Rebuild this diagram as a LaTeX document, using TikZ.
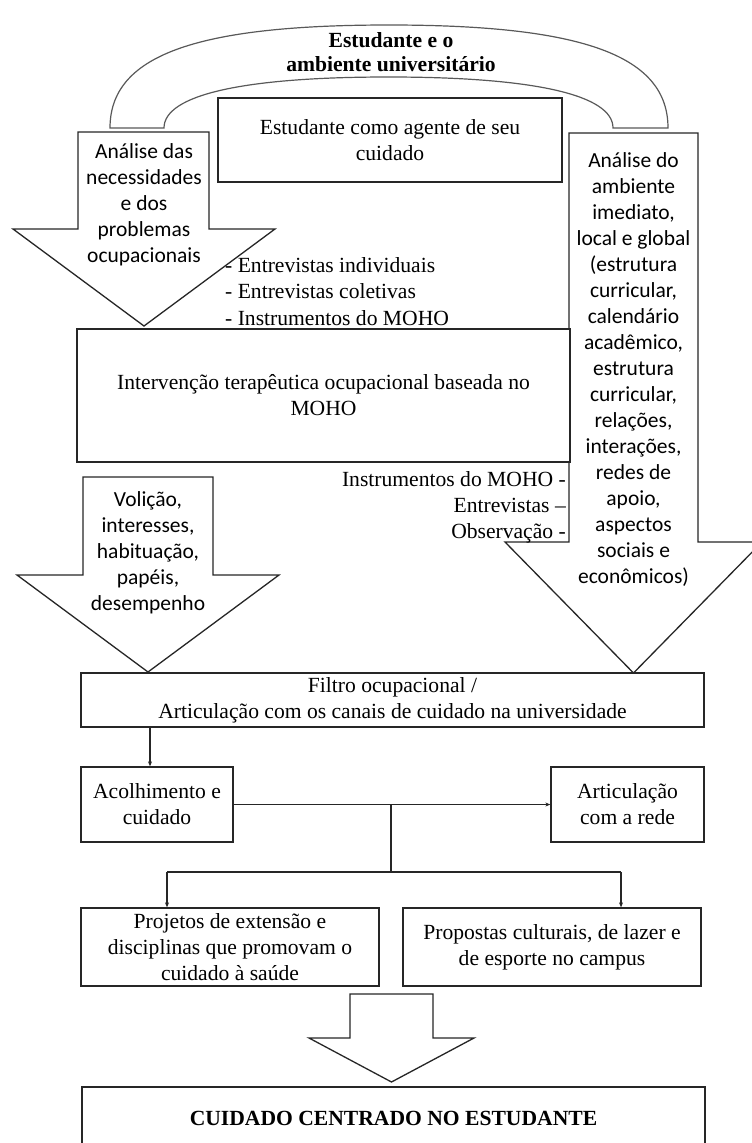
\documentclass[tikz,border=0pt]{standalone}
\usepackage{fontspec}
\setmainfont{Liberation Serif}
\newfontfamily\carlito{Carlito}
\usetikzlibrary{arrows.meta}
\newcommand\txtserif{\fontsize{21.6}{26}\selectfont}
\newcommand\txtsans{\carlito\fontsize{21.5}{26}\selectfont}
\newcommand\txttitle{\bfseries\fontsize{21.6}{24}\selectfont}
\begin{document}
\begin{tikzpicture}[x=1pt,y=-1pt,
  outline/.style={draw=black!85, line width=1.3pt},
  box/.style={outline, fill=white, align=center, inner sep=0pt, font=\txtserif},
  blockarrow/.style={outline, fill=white, line join=miter},
  sanstext/.style={align=center, inner sep=0pt, font=\txtsans},
  conn/.style={draw=black!85, line width=1.1pt, -{Stealth[length=5pt,width=4pt]}},
  link/.style={draw=black!85, line width=1.1pt}]
\useasboundingbox (0,0) rectangle (752,1143);
\clip (0,0) rectangle (752,1143);

% band arching over the top
\draw[draw=black!65, line width=1.2pt, fill=white]
  (110,128) .. controls (110,56) and (194,25) .. (389,25)
  .. controls (584,25) and (668,56) .. (668,128)
  -- (613,128) .. controls (613,95) and (534.5,77) .. (388.5,77)
  .. controls (242.5,77) and (164,95) .. (164,128) -- cycle;
\node[align=center, inner sep=0pt, font=\txttitle] (title) at (391,52)
  {Estudante e o\\ambiente universitário};

% large block arrows
\draw[blockarrow] (569,133) -- (698,133) -- (698,542) -- (762,542)
  -- (633.5,673) -- (505,542) -- (569,542) -- cycle;
\draw[blockarrow] (78,132) -- (209,132) -- (209,229) -- (275,229)
  -- (144,326) -- (13,229) -- (78,229) -- cycle;
\draw[blockarrow] (83,477) -- (213,477) -- (213,575) -- (279,575)
  -- (148,672) -- (17,575) -- (83,575) -- cycle;
\draw[blockarrow] (350,994) -- (433,994) -- (433,1038) -- (474,1038)
  -- (391.5,1082) -- (309,1038) -- (350,1038) -- cycle;

% texts carried by the block arrows
\node[sanstext] (needs) at (144,205)
  {Análise das\\necessidades\\e dos\\problemas\\ocupacionais};
\node[sanstext] (env) at (633.5,370)
  {Análise do\\ambiente\\imediato,\\local e global\\(estrutura\\curricular,\\calendário\\acadêmico,\\estrutura\\curricular,\\relações,\\interações,\\redes de\\apoio,\\aspectos\\sociais e\\econômicos)};
\node[sanstext] (volition) at (148,552.5)
  {Volição,\\interesses,\\habituação,\\papéis,\\desempenho};

% boxes
\node[box, minimum width=344, minimum height=84] (agent) at (390,140)
  {Estudante como agente de seu\\cuidado};
\node[box, minimum width=493, minimum height=133] (interv) at (323.5,395.5)
  {Intervenção terapêutica ocupacional baseada no\\MOHO};
\node[box, minimum width=623, minimum height=54] (filtro) at (392.5,700)
  {Filtro ocupacional /\\Articulação com os canais de cuidado na universidade};
\node[box, minimum width=152, minimum height=75] (acolh) at (157,804.5)
  {Acolhimento e\\cuidado};
\node[box, minimum width=153, minimum height=75] (artic) at (627.5,804.5)
  {Articulação\\com a rede};
\node[box, minimum width=298, minimum height=78] (proj) at (230,947)
  {Projetos de extensão e\\disciplinas que promovam o\\cuidado à saúde};
\node[box, minimum width=298, minimum height=78] (prop) at (552,947)
  {Propostas culturais, de lazer e\\de esporte no campus};
\node[box, minimum width=623, minimum height=62, font=\txtserif\bfseries] (final) at (393.5,1118)
  {CUIDADO CENTRADO NO ESTUDANTE};

% method lists
\node[anchor=west, align=left, inner sep=0pt, font=\fontsize{21.6}{26.5}\selectfont] (methodsA) at (225,291.5)
  {- Entrevistas individuais\\- Entrevistas coletivas\\- Instrumentos do MOHO};
\node[anchor=east, align=right, inner sep=0pt, font=\txtserif] (methodsB) at (566,507)
  {Instrumentos do MOHO -\\Entrevistas –\\Observação -};

% connectors
\coordinate (fa) at (150,0);
\draw[conn] (filtro.south -| fa) -- (acolh.north -| fa);
\draw[conn] (acolh) -- (artic);
\coordinate (split) at (391,872);
\coordinate (lt) at (167,872);
\coordinate (rt) at (621,872);
\draw[link] (acolh.east -| split) -- (split);
\draw[link] (lt) -- (rt);
\draw[conn] (lt) -- (lt |- proj.north);
\draw[conn] (rt) -- (rt |- prop.north);
\end{tikzpicture}
\end{document}
